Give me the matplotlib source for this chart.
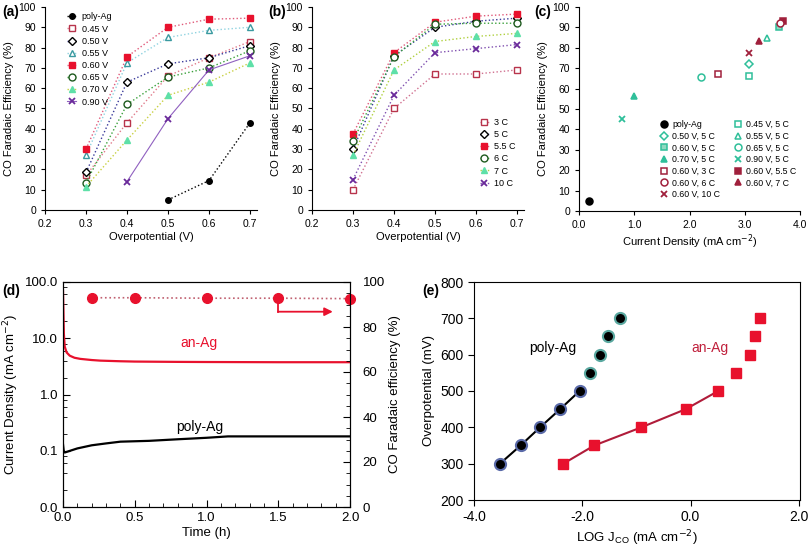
import numpy as np
import matplotlib
matplotlib.use("Agg")
import matplotlib.pyplot as plt
from matplotlib.ticker import MultipleLocator, NullFormatter, LogLocator

plt.rcParams['font.family'] = ['Liberation Sans', 'DejaVu Sans']

# ---- data (a): FE vs overpotential for different anodization voltages
eta = [0.3, 0.4, 0.5, 0.6, 0.7]
poly_eta = [0.5, 0.6, 0.7]
poly_fe = [5, 14.5, 43]
fe_045 = [17, 43, 66, 75, 83]
fe_050 = [18.5, 63, 72, 75, 81]
fe_055 = [27, 72.5, 85, 88.5, 90]
fe_060 = [30, 75.5, 90, 94, 94.5]
fe_065 = [13.5, 52, 65.5, 70, 78.5]
fe_070 = [11.5, 34.5, 56.5, 63, 72.5]
eta_090 = [0.4, 0.5, 0.6, 0.7]
fe_090 = [14, 45, 69, 76]

# ---- data (b): FE vs overpotential for different charges
fe_3c = [10, 50, 67, 67, 69]
fe_5c = [30, 76, 90, 93, 94.5]
fe_55c = [37.5, 77.5, 92.5, 95.5, 96.5]
fe_6c = [34, 75.5, 91.5, 92, 92]
fe_7c = [27, 69, 83, 85.5, 87]
fe_10c = [15, 56.5, 77.5, 79.5, 81.5]

# ---- data (c): FE vs current density
c_labels = ['poly-Ag', '0.45 V, 5 C', '0.50 V, 5 C', '0.55 V, 5 C', '0.60 V, 5 C',
            '0.65 V, 5 C', '0.70 V, 5 C', '0.90 V, 5 C', '0.60 V, 3 C',
            '0.60 V, 5.5 C', '0.60 V, 6 C', '0.60 V, 7 C', '0.60 V, 10 C']
c_j = [0.18, 3.07, 3.08, 3.4, 3.62, 2.2, 1.0, 0.78, 2.52, 3.7, 3.63, 3.25, 3.08]
c_fe = [5, 66, 72, 85, 90, 65.5, 56.5, 45, 67, 93, 92, 83.5, 77.5]

# ---- data (d): chronoamperometry
t_an = [0, 0.003, 0.006, 0.012, 0.025, 0.047, 0.08, 0.12, 0.2, 0.26, 0.4, 0.5, 0.8, 1.0, 1.5, 2.0]
j_an = [71, 30, 12, 7.1, 5.6, 4.9, 4.5, 4.3, 4.1, 4.0, 3.9, 3.85, 3.8, 3.78, 3.75, 3.75]
t_poly = [0, 0.005, 0.012, 0.05, 0.1, 0.2, 0.3, 0.4, 0.6, 0.8, 1.0, 1.15, 1.5, 2.0]
j_poly = [0.13, 0.1, 0.093, 0.1, 0.11, 0.125, 0.135, 0.145, 0.15, 0.16, 0.17, 0.18, 0.18, 0.18]
t_fe = [0.2, 0.5, 1.0, 1.5, 2.0]
fe_t = [93, 93, 92.8, 92.8, 92.6]

# ---- data (e): Tafel plots
poly_logj = [-3.52, -3.14, -2.78, -2.41, -2.05, -1.85, -1.68, -1.53, -1.31]
poly_eta_mv = [300, 350, 400, 450, 500, 550, 600, 650, 700]
an_logj = [-2.35, -1.78, -0.91, -0.09, 0.51, 0.83, 1.09, 1.18, 1.29]
an_eta_mv = [300, 350, 400, 450, 500, 550, 600, 650, 700]

W, H = 808, 547
fig = plt.figure(figsize=(W / 100, H / 100), dpi=100)


def box(l, t, r, b):
    return [l / W, 1 - b / H, (r - l) / W, (b - t) / H]


def style_top(ax):
    ax.spines['top'].set_visible(False)
    ax.spines['right'].set_visible(False)
    ax.tick_params(labelsize=7.5, length=3, direction='out')
    ax.set_ylim(0, 100)
    ax.set_yticks(range(0, 101, 10))


red = '#e8112d'
ms = 5

# ---------------- (a)
ax = fig.add_axes(box(45, 7, 257, 210))
ax.plot(poly_eta, poly_fe, ':', color='black', marker='o', ms=ms - 1, mfc='black', mec='black', lw=1, label='poly-Ag')
ax.plot(eta, fe_045, ':', color='#e07a8a', marker='s', ms=ms, mfc='white', mec='#b8344c', lw=1, label='0.45 V')
ax.plot(eta, fe_050, ':', color='#3a3a9a', marker='D', ms=ms - 1, mfc='white', mec='black', lw=1, label='0.50 V')
ax.plot(eta, fe_055, ':', color='#8fd3e0', marker='^', ms=ms, mfc='white', mec='#3a9aa0', lw=1, label='0.55 V')
ax.plot(eta, fe_060, ':', color='#e05a7a', marker='s', ms=ms, mfc=red, mec=red, lw=1, label='0.60 V')
ax.plot(eta, fe_065, ':', color='#3aa03a', marker='o', ms=ms, mfc='white', mec='#1e5a1e', lw=1, label='0.65 V')
ax.plot(eta, fe_070, ':', color='#c8d040', marker='^', ms=ms, mfc='#5ee0a8', mec='#5ee0a8', lw=1, label='0.70 V')
ax.plot(eta_090, fe_090, '-', color='#9060c0', marker='x', ms=ms, mec='#6a2a9a', mew=1.3, lw=0.8, label='0.90 V')
style_top(ax)
ax.set_xlim(0.2, 0.717)
ax.set_xticks([0.2, 0.3, 0.4, 0.5, 0.6, 0.7])
ax.set_xlabel('Overpotential (V)', fontsize=8, labelpad=2)
ax.set_ylabel('CO Faradaic Efficiency (%)', fontsize=8, labelpad=3)
ax.legend(loc='upper left', bbox_to_anchor=(0.08, 1.0), fontsize=6.5, frameon=False,
          handlelength=1.0, labelspacing=0.35, handletextpad=0.6, borderaxespad=0.2)
fig.text(2 / W, 1 - 12 / H, '(a)', fontsize=10, fontweight='bold', va='center')

# ---------------- (b)
ax = fig.add_axes(box(312, 7, 524, 210))
ax.plot(eta, fe_3c, ':', color='#d07090', marker='s', ms=ms, mfc='white', mec='#b8344c', lw=1, label='3 C')
ax.plot(eta, fe_5c, ':', color='#3a3a9a', marker='D', ms=ms - 1, mfc='white', mec='black', lw=1, label='5 C')
ax.plot(eta, fe_55c, ':', color='#e05a7a', marker='s', ms=ms, mfc=red, mec=red, lw=1, label='5.5 C')
ax.plot(eta, fe_6c, ':', color='#3aa03a', marker='o', ms=ms, mfc='white', mec='#1e5a1e', lw=1, label='6 C')
ax.plot(eta, fe_7c, ':', color='#b0d040', marker='^', ms=ms, mfc='#5ee0a8', mec='#5ee0a8', lw=1, label='7 C')
ax.plot(eta, fe_10c, ':', color='#8050b0', marker='x', ms=ms, mec='#6a2a9a', mew=1.3, lw=1, label='10 C')
style_top(ax)
ax.set_xlim(0.2, 0.717)
ax.set_xticks([0.2, 0.3, 0.4, 0.5, 0.6, 0.7])
ax.set_xlabel('Overpotential (V)', fontsize=8, labelpad=2)
ax.set_ylabel('CO Faradaic Efficiency (%)', fontsize=8, labelpad=3)
ax.legend(loc='lower right', bbox_to_anchor=(1.0, 0.07), fontsize=6.5, frameon=False,
          handlelength=1.0, labelspacing=0.35, handletextpad=0.6)
fig.text(268 / W, 1 - 12 / H, '(b)', fontsize=10, fontweight='bold', va='center')

# ---------------- (c)
ax = fig.add_axes(box(579, 7, 800, 211))
teal = '#2fbf9a'
dred = '#a0203c'
c_styles = [
    dict(marker='o', mfc='black', mec='black'),
    dict(marker='s', mfc='white', mec=teal),
    dict(marker='D', mfc='white', mec=teal, ms=ms - 1),
    dict(marker='^', mfc='white', mec=teal),
    dict(marker='s', mfc='#8fd8c0', mec=teal),
    dict(marker='o', mfc='white', mec=teal),
    dict(marker='^', mfc=teal, mec=teal),
    dict(marker='x', mec=teal, mew=1.3),
    dict(marker='s', mfc='white', mec=dred),
    dict(marker='s', mfc=dred, mec=dred),
    dict(marker='o', mfc='white', mec=dred),
    dict(marker='^', mfc=dred, mec=dred),
    dict(marker='x', mec=dred, mew=1.3),
]
handles = []
for lab, xj, yf, st in zip(c_labels, c_j, c_fe, c_styles):
    kw = dict(ms=ms, mew=1.1)
    kw.update(st)
    h, = ax.plot([xj], [yf], linestyle='none', label=lab, **kw)
    handles.append(h)
style_top(ax)
ax.set_xlim(0, 4)
ax.set_xticks([0, 1, 2, 3, 4])
ax.set_xticklabels(['0.0', '1.0', '2.0', '3.0', '4.0'])
ax.set_xlabel('Current Density (mA cm$^{-2}$)', fontsize=8, labelpad=2)
ax.set_ylabel('CO Faradaic Efficiency (%)', fontsize=8, labelpad=3)
# legend is read row by row in the reference -> reorder for column filling
order = list(range(0, 13, 2)) + list(range(1, 13, 2))
ax.legend([handles[i] for i in order], [c_labels[i] for i in order],
          loc='lower right', bbox_to_anchor=(1.02, 0.02), ncol=2, fontsize=6.3, frameon=False,
          handlelength=1.0, labelspacing=0.3, handletextpad=0.4, columnspacing=1.6)
fig.text(534 / W, 1 - 12 / H, '(c)', fontsize=10, fontweight='bold', va='center')

# ---------------- (d)
ax = fig.add_axes(box(63, 282, 350, 507))
ax.plot(t_an, j_an, '-', color=red, lw=1.6)
ax.plot(t_poly, j_poly, '-', color='black', lw=1.6)
ax.set_yscale('log')
ax.set_ylim(0.01, 100)
ax.set_xlim(0, 2)
ax.set_yticks([0.01, 0.1, 1, 10, 100])
ax.set_yticklabels(['0.0', '0.1', '1.0', '10.0', '100.0'])
ax.yaxis.set_minor_locator(LogLocator(base=10, subs=(0.2, 0.4, 0.6, 0.8), numticks=10))
ax.yaxis.set_minor_formatter(NullFormatter())
ax.set_xticks([0, 0.5, 1.0, 1.5, 2.0])
ax.set_xticklabels(['0.0', '0.5', '1.0', '1.5', '2.0'])
ax.xaxis.set_minor_locator(MultipleLocator(0.1))
ax.tick_params(which='both', direction='in', labelsize=9.5)
ax.tick_params(which='major', length=5)
ax.tick_params(which='minor', length=3)
ax.set_xlabel('Time (h)', fontsize=9.5, labelpad=2)
ax.set_ylabel('Current Density (mA cm$^{-2}$)', fontsize=9.5, labelpad=3)
ax.text(0.95, 6.3, 'an-Ag', color=red, fontsize=10, ha='center', va='bottom')
ax.text(0.95, 0.2, 'poly-Ag', color='black', fontsize=10, ha='center', va='bottom')

ax2 = ax.twinx()
ax2.plot(t_fe, fe_t, ':', color='#c06070', marker='o', ms=7, mfc=red, mec=red, lw=1.2, clip_on=False)
ax2.set_ylim(0, 100)
ax2.set_yticks(range(0, 101, 20))
ax2.yaxis.set_minor_locator(MultipleLocator(5))
ax2.tick_params(which='both', direction='in', labelsize=9.5, pad=9)
ax2.tick_params(which='major', length=5)
ax2.tick_params(which='minor', length=3)
ax2.set_ylabel('CO Faradaic efficiency (%)', fontsize=9.5, labelpad=3)
ax2.plot([t_fe[3], t_fe[3]], [fe_t[3], 86.8], color=red, lw=1.3)
ax2.annotate('', xy=(1.88, 86.8), xytext=(1.5, 86.8),
             arrowprops=dict(arrowstyle='-|>', color=red, lw=1.3, mutation_scale=12,
                             shrinkA=0, shrinkB=0))
fig.text(2 / W, 1 - 291 / H, '(d)', fontsize=10, fontweight='bold', va='center')

# ---------------- (e)
ax = fig.add_axes(box(474, 282, 800, 500))
ax.plot(poly_logj[:5], poly_eta_mv[:5], '-', color='black', lw=1.5)
ax.plot(an_logj[:5], an_eta_mv[:5], '-', color='#b01c3a', lw=1.5)
ax.plot(poly_logj[:5], poly_eta_mv[:5], 'o', ms=8, mfc='black', mec='#5a6aa8', mew=1.5)
ax.plot(poly_logj[5:], poly_eta_mv[5:], 'o', ms=8, mfc='black', mec='#5aa8a0', mew=1.5)
ax.plot(an_logj, an_eta_mv, 's', ms=7.5, mfc=red, mec=red)
ax.set_xlim(-4, 2.02)
ax.set_ylim(200, 800)
ax.set_xticks([-4, -2, 0, 2])
ax.set_xticklabels(['-4.0', '-2.0', '0.0', '2.0'])
ax.set_yticks(range(200, 801, 100))
ax.tick_params(labelsize=10, length=4, direction='out')
ax.set_xlabel('LOG J$_{\\mathregular{CO}}$ (mA cm$^{-2}$)', fontsize=9.5, labelpad=3)
ax.set_ylabel('Overpotential (mV)', fontsize=9.5, labelpad=4)
ax.text(-2.55, 617, 'poly-Ag', color='black', fontsize=10, ha='center', va='center')
ax.text(0.35, 617, 'an-Ag', color='#c0203c', fontsize=10, ha='center', va='center')
fig.text(422 / W, 1 - 291 / H, '(e)', fontsize=10, fontweight='bold', va='center')

fig.savefig('out.png', dpi=100)
